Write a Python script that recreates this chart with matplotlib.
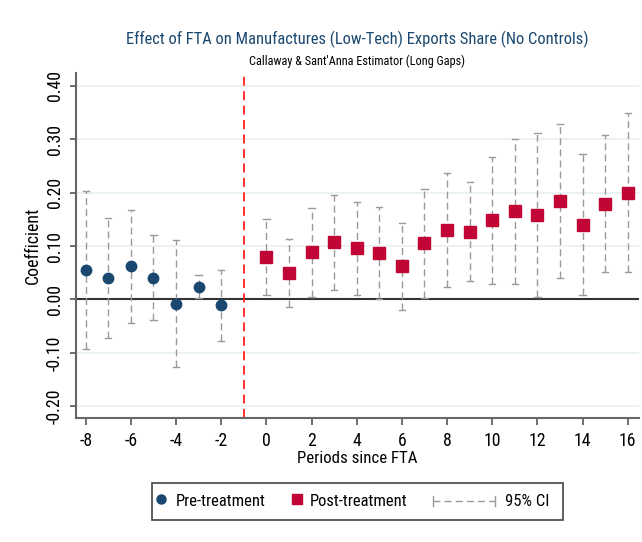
import os
import matplotlib.pyplot as plt
from matplotlib import font_manager as fm
from matplotlib.lines import Line2D
from matplotlib.patches import Rectangle

# event-study estimates, pre and post treatment
pre_t = [-8, -7, -6, -5, -4, -3, -2]
pre_b = [0.055, 0.040, 0.062, 0.040, -0.009, 0.024, -0.011]
pre_lo = [-0.093, -0.072, -0.044, -0.039, -0.126, 0.002, -0.077]
pre_hi = [0.203, 0.153, 0.168, 0.120, 0.111, 0.046, 0.055]

post_t = list(range(0, 17))
post_b = [0.080, 0.050, 0.088, 0.107, 0.096, 0.087, 0.062, 0.105, 0.130,
          0.126, 0.148, 0.165, 0.158, 0.184, 0.140, 0.179, 0.200]
post_lo = [0.009, -0.014, 0.005, 0.017, 0.009, 0.000, -0.019, 0.003, 0.024,
           0.034, 0.029, 0.029, 0.004, 0.041, 0.008, 0.051, 0.051]
post_hi = [0.151, 0.113, 0.172, 0.196, 0.182, 0.173, 0.143, 0.206, 0.236,
           0.219, 0.267, 0.301, 0.311, 0.329, 0.272, 0.308, 0.349]

xticks = list(range(-8, 17, 2))
yticks = [-0.2, -0.1, 0.0, 0.1, 0.2, 0.3, 0.4]

blue = '#1a476f'
red = '#c10534'
ci_col = '#9a9a9a'

# pick a narrow sans face if one is around, else shrink regular Liberation Sans
narrow = [('liberationsansnarrow-regular', 1.0), ('arialnarrow', 1.0),
          ('robotocondensed-regular', 0.95), ('notosans-condensed.ttf', 0.93),
          ('notosans-condensedregular', 0.93), ('dejavusanscondensed.ttf', 0.86)]
files = {os.path.basename(f.fname).lower(): f.fname for f in fm.fontManager.ttflist}
font_file, k = None, 0.82
for key, fac in narrow:
    hit = [v for n, v in files.items() if n.startswith(key) or n == key]
    if hit:
        font_file, k = hit[0], fac
        break
if font_file:
    base = fm.FontProperties(fname=font_file)
else:
    base = fm.FontProperties(family='Liberation Sans')

def fp(size):
    p = base.copy()
    p.set_size(size * k)
    return p

plt.rcParams['axes.unicode_minus'] = False

fig = plt.figure(figsize=(6.42, 5.42), dpi=100)
ax = fig.add_axes([0.1184, 0.2288, 0.8770, 0.6365])

for y in yticks:
    ax.axhline(y, color='#e8f0f2', lw=1.2, zorder=0)
ax.axhline(0, color='#333333', lw=1.5, zorder=1)
ax.axvline(-1, color='#ff2020', lw=1.3, ls=(0, (5, 3)), zorder=1)

def ci(ts, lo, hi):
    for t, a, b in zip(ts, lo, hi):
        ax.plot([t, t], [a, b], color=ci_col, lw=1.0, ls=(0, (5, 3)), zorder=2)
        ax.plot([t - 0.14, t + 0.14], [a, a], color=ci_col, lw=1.0, zorder=2)
        ax.plot([t - 0.14, t + 0.14], [b, b], color=ci_col, lw=1.0, zorder=2)

ci(pre_t, pre_lo, pre_hi)
ci(post_t, post_lo, post_hi)

ax.plot(pre_t, pre_b, 'o', color=blue, ms=7.5, zorder=3)
ax.plot(post_t, post_b, 's', color=red, ms=8, zorder=3)

ax.set_xlim(-8.43, 16.5)
ax.set_ylim(-0.222, 0.424)
ax.set_xticks(xticks)
ax.set_xticklabels([str(v) for v in xticks], fontproperties=fp(13.5))
ax.set_yticks(yticks)
ax.set_yticklabels(['%.2f' % v for v in yticks], rotation=90, va='center',
                   fontproperties=fp(13.5))
ax.tick_params(axis='x', color='#555555', length=5, width=1.2, pad=5)
ax.tick_params(axis='y', color='#555555', length=4.3, width=1.2, pad=4.3)
for s in ['top', 'right']:
    ax.spines[s].set_visible(False)
for s in ['left', 'bottom']:
    ax.spines[s].set_color('#666666')
    ax.spines[s].set_linewidth(1.5)

ax.set_xlabel('Periods since FTA', fontproperties=fp(12.8), labelpad=1)
ax.set_ylabel('Coefficient', fontproperties=fp(13.5), labelpad=3)

fig.text(0.556, 0.928, 'Effect of FTA on Manufactures (Low-Tech) Exports Share (No Controls)',
         ha='center', va='center', fontproperties=fp(12.5), color=blue)
fig.text(0.556, 0.887, "Callaway & Sant'Anna Estimator (Long Gaps)",
         ha='center', va='center', fontproperties=fp(9.3), color='black')

# legend drawn by hand in figure coordinates
fig.add_artist(Rectangle((0.2368, 0.0406), 0.6402, 0.0683, transform=fig.transFigure,
                         fill=False, edgecolor='#444444', lw=1.2))
ly = 0.0756
fig.add_artist(Line2D([0.2508], [ly + 0.004], marker='o', color=blue, ms=6.5,
                      transform=fig.transFigure))
fig.text(0.274, ly, 'Pre-treatment', va='center', fontproperties=fp(12.6))
fig.add_artist(Line2D([0.4626], [ly + 0.004], marker='s', color=red, ms=7,
                      transform=fig.transFigure))
fig.text(0.4829, ly, 'Post-treatment', va='center', fontproperties=fp(12.6))
fig.add_artist(Line2D([0.6745, 0.771], [ly, ly], color=ci_col, lw=1.0, ls=(0, (5, 3)),
                      transform=fig.transFigure))
for xe in (0.6745, 0.771):
    fig.add_artist(Line2D([xe, xe], [ly - 0.009, ly + 0.009], color=ci_col, lw=1.0,
                          transform=fig.transFigure))
fig.text(0.7866, ly, '95% CI', va='center', fontproperties=fp(12.6))

fig.savefig('out.png', dpi=100)
